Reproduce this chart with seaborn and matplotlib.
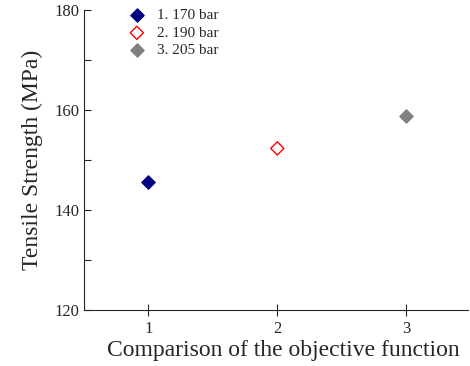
import matplotlib
matplotlib.use("Agg")
import matplotlib.pyplot as plt
import seaborn as sns
import pandas as pd
from matplotlib.ticker import MultipleLocator

# === DATOS ===
labels = ["1. 170 bar", "2. 190 bar", "3. 205 bar"]
x_vals = [1, 2, 3]
strength = [145.5, 152.3, 158.8]
colores = ["#000080", "#ff0000", "#808080"]
rellenos = ["#000080", "none", "#808080"]

sns.set_style("ticks")
plt.rcParams["font.family"] = ["Liberation Serif", "DejaVu Serif"]

fig = plt.figure(figsize=(4.7, 3.66), dpi=100)
ax = fig.add_axes([0.1787, 0.153, 0.817, 0.820])

for xv, yv, lab, col, fc in zip(x_vals, strength, labels, colores, rellenos):
    df = pd.DataFrame({"x": [xv], "y": [yv]})
    sns.scatterplot(data=df, x="x", y="y", ax=ax, marker="D", s=45,
                    edgecolor=col, facecolor=fc, linewidth=1.0, label=lab)

ax.set_xlim(0.5, 3.48)
ax.set_ylim(120, 180)
ax.set_xticks(x_vals)
ax.yaxis.set_major_locator(MultipleLocator(20))
ax.yaxis.set_minor_locator(MultipleLocator(10))
ax.tick_params(axis="y", which="both", direction="in", labelsize=12, length=5, width=0.8)
ax.tick_params(axis="x", direction="inout", labelsize=12, length=9, width=0.8)
ax.set_xlabel("Comparison of the objective function", fontsize=17)
ax.xaxis.set_label_coords(0.52, -0.1)
ax.set_ylabel("Tensile Strength (MPa)", fontsize=17, labelpad=8)
sns.despine(ax=ax)
for s in ["left", "bottom"]:
    ax.spines[s].set_linewidth(0.8)

ax.legend(loc="upper left", bbox_to_anchor=(0.062, 1.05), frameon=False,
          fontsize=11, handletextpad=0.35, labelspacing=0.25)

fig.savefig("out.png", dpi=100)
